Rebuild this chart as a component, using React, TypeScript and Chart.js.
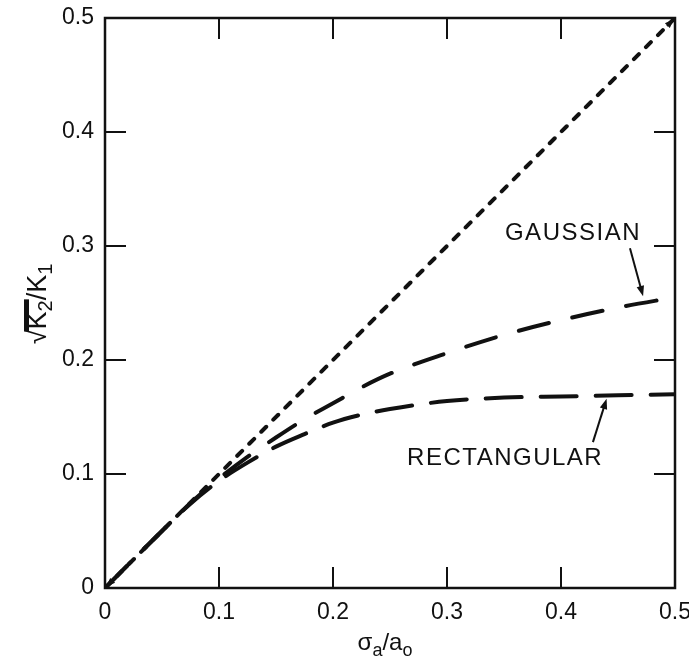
import React, { useEffect, useRef } from "react";
import { Chart, registerables } from "chart.js";

Chart.register(...registerables);

// ---- data ----
const diagonalX = [0, 0.5];
const diagonalY = [0, 0.5];
const gaussianX = [0, 0.05, 0.075, 0.1, 0.125, 0.15, 0.175, 0.2, 0.225, 0.25, 0.3, 0.35, 0.4, 0.45, 0.5];
const gaussianY = [0, 0.05, 0.0745, 0.096, 0.115, 0.132, 0.148, 0.162, 0.176, 0.188, 0.206, 0.222, 0.235, 0.246, 0.255];
const rectX = [0, 0.05, 0.075, 0.1, 0.125, 0.15, 0.175, 0.2, 0.225, 0.25, 0.3, 0.35, 0.4, 0.45, 0.5];
const rectY = [0, 0.05, 0.074, 0.094, 0.11, 0.124, 0.135, 0.145, 0.152, 0.157, 0.164, 0.167, 0.168, 0.169, 0.17];
const tickValues = [0, 0.1, 0.2, 0.3, 0.4, 0.5];
const tickLabels = ["0", "0.1", "0.2", "0.3", "0.4", "0.5"];

// annotation anchors (data coordinates)
const gaussLabel = { text: "GAUSSIAN", x: 0.4105, y: 0.311 };
const gaussArrow = { x0: 0.4605, y0: 0.298, x1: 0.472, y1: 0.256 };
const rectLabel = { text: "RECTANGULAR", x: 0.351, y: 0.114 };
const rectArrow = { x0: 0.428, y0: 0.128, x1: 0.44, y1: 0.166 };

const FONT = '"Liberation Sans", Arial, Helvetica, sans-serif';
const INK = "#111111";
const TICK_LEN = 21;

const labelFor = (v: number) => {
  const i = tickValues.findIndex((t) => Math.abs(t - v) < 1e-9);
  return i >= 0 ? tickLabels[i] : "";
};

function arrow(ctx: CanvasRenderingContext2D, x0: number, y0: number, x1: number, y1: number, head: number) {
  const ang = Math.atan2(y1 - y0, x1 - x0);
  ctx.beginPath();
  ctx.moveTo(x0, y0);
  ctx.lineTo(x1 - Math.cos(ang) * head * 0.8, y1 - Math.sin(ang) * head * 0.8);
  ctx.lineWidth = 2;
  ctx.stroke();
  ctx.beginPath();
  ctx.moveTo(x1, y1);
  ctx.lineTo(x1 - head * Math.cos(ang - 0.35), y1 - head * Math.sin(ang - 0.35));
  ctx.lineTo(x1 - head * Math.cos(ang + 0.35), y1 - head * Math.sin(ang + 0.35));
  ctx.closePath();
  ctx.fill();
}

type Part = { t: string; sub?: boolean };

function drawRich(ctx: CanvasRenderingContext2D, parts: Part[], cx: number, baseY: number, size: number, subSize: number, subDrop: number) {
  const widths = parts.map((p) => {
    ctx.font = `${p.sub ? subSize : size}px ${FONT}`;
    return ctx.measureText(p.t).width;
  });
  const total = widths.reduce((a, b) => a + b, 0);
  let x = cx - total / 2;
  const pos: number[] = [];
  parts.forEach((p, i) => {
    ctx.font = `${p.sub ? subSize : size}px ${FONT}`;
    ctx.textAlign = "left";
    ctx.textBaseline = "alphabetic";
    ctx.fillText(p.t, x, baseY + (p.sub ? subDrop : 0));
    pos.push(x);
    x += widths[i];
  });
  return { pos, widths };
}

const framePlugin = {
  id: "framePlugin",
  afterDatasetsDraw(chart: any) {
    const ctx: CanvasRenderingContext2D = chart.ctx;
    const { left, right, top, bottom } = chart.chartArea;
    const xs = chart.scales.x;
    const ys = chart.scales.y;
    ctx.save();
    ctx.strokeStyle = INK;
    ctx.fillStyle = INK;
    ctx.lineWidth = 2.5;
    ctx.strokeRect(left, top, right - left, bottom - top);
    ctx.lineWidth = 2;
    ctx.beginPath();
    tickValues.forEach((v) => {
      if (v <= 0 || v >= 0.5) return;
      const px = xs.getPixelForValue(v);
      ctx.moveTo(px, bottom);
      ctx.lineTo(px, bottom - TICK_LEN);
      ctx.moveTo(px, top);
      ctx.lineTo(px, top + TICK_LEN);
      const py = ys.getPixelForValue(v);
      ctx.moveTo(left, py);
      ctx.lineTo(left + TICK_LEN, py);
      ctx.moveTo(right, py);
      ctx.lineTo(right - TICK_LEN, py);
    });
    ctx.stroke();

    // arrowheads at the ends of the diagonal
    const dx0 = xs.getPixelForValue(diagonalX[0]);
    const dy0 = ys.getPixelForValue(diagonalY[0]);
    const dx1 = xs.getPixelForValue(diagonalX[1]);
    const dy1 = ys.getPixelForValue(diagonalY[1]);
    arrow(ctx, dx0 + 8, dy0 - 8, dx0 + 1, dy0 - 1, 10);
    arrow(ctx, dx1 - 8, dy1 + 8, dx1 - 1, dy1 + 1, 10);

    // annotation arrows
    arrow(ctx, xs.getPixelForValue(gaussArrow.x0), ys.getPixelForValue(gaussArrow.y0), xs.getPixelForValue(gaussArrow.x1), ys.getPixelForValue(gaussArrow.y1), 11);
    arrow(ctx, xs.getPixelForValue(rectArrow.x0), ys.getPixelForValue(rectArrow.y0), xs.getPixelForValue(rectArrow.x1), ys.getPixelForValue(rectArrow.y1), 11);

    // annotation labels
    ctx.font = `24px ${FONT}`;
    (ctx as any).letterSpacing = "1.5px";
    ctx.textAlign = "center";
    ctx.textBaseline = "middle";
    ctx.fillText(gaussLabel.text, xs.getPixelForValue(gaussLabel.x), ys.getPixelForValue(gaussLabel.y));
    ctx.fillText(rectLabel.text, xs.getPixelForValue(rectLabel.x), ys.getPixelForValue(rectLabel.y));
    (ctx as any).letterSpacing = "0px";

    // x axis title: sigma_a / a_o
    drawRich(
      ctx,
      [{ t: "σ" }, { t: "a", sub: true }, { t: "/a" }, { t: "o", sub: true }],
      (left + right) / 2 - 5,
      650,
      24,
      18,
      6
    );

    // y axis title: sqrt(K2)/K1, rotated
    ctx.translate(46, 304);
    ctx.rotate(-Math.PI / 2);
    const r = drawRich(
      ctx,
      [{ t: "√" }, { t: "K" }, { t: "2", sub: true }, { t: "/K" }, { t: "1", sub: true }],
      0,
      0,
      27,
      20,
      6
    );
    ctx.font = `27px ${FONT}`;
    const m = ctx.measureText("√");
    const barY = -(m.actualBoundingBoxAscent || 21) + 2.5;
    ctx.lineWidth = 5;
    ctx.beginPath();
    ctx.moveTo(r.pos[0] + r.widths[0] - 2, barY);
    ctx.lineTo(r.pos[2] + r.widths[2] + 1, barY);
    ctx.stroke();
    ctx.restore();
  },
};

export default function App() {
  const ref = useRef<HTMLCanvasElement>(null);
  useEffect(() => {
    const canvas = ref.current;
    if (!canvas) return;
    const chart = new Chart(canvas, {
      type: "line",
      data: {
        datasets: [
          {
            label: "y = x",
            data: diagonalX.map((x, i) => ({ x, y: diagonalY[i] })),
            borderColor: INK,
            borderWidth: 4,
            borderDash: [7, 10],
            borderCapStyle: "round",
            pointRadius: 0,
            fill: false,
          },
          {
            label: "GAUSSIAN",
            data: gaussianX.map((x, i) => ({ x, y: gaussianY[i] })),
            borderColor: INK,
            borderWidth: 4,
            borderDash: [31, 24],
            borderCapStyle: "round",
            pointRadius: 0,
            fill: false,
            cubicInterpolationMode: "monotone",
          },
          {
            label: "RECTANGULAR",
            data: rectX.map((x, i) => ({ x, y: rectY[i] })),
            borderColor: INK,
            borderWidth: 4,
            borderDash: [36, 19],
            borderCapStyle: "round",
            pointRadius: 0,
            fill: false,
            cubicInterpolationMode: "monotone",
          },
        ],
      },
      options: {
        responsive: false,
        animation: false,
        devicePixelRatio: 1,
        layout: { padding: { left: 0, right: 14, top: 18, bottom: 0 } },
        plugins: { legend: { display: false }, tooltip: { enabled: false } },
        scales: {
          x: {
            type: "linear",
            min: 0,
            max: 0.5,
            afterBuildTicks: (s: any) => {
              s.ticks = tickValues.map((v) => ({ value: v }));
            },
            afterFit: (s: any) => {
              s.height = 73;
              s.paddingLeft = 0;
              s.paddingRight = 0;
            },
            grid: { display: false, drawTicks: false },
            border: { display: false },
            ticks: {
              padding: 11,
              autoSkip: false,
              maxRotation: 0,
              color: INK,
              font: { family: FONT, size: 23 },
              callback: (v: any) => labelFor(Number(v)),
            },
          },
          y: {
            type: "linear",
            min: 0,
            max: 0.5,
            afterBuildTicks: (s: any) => {
              s.ticks = tickValues.map((v) => ({ value: v }));
            },
            afterFit: (s: any) => {
              s.width = 105;
              s.paddingTop = 0;
              s.paddingBottom = 0;
            },
            grid: { display: false, drawTicks: false },
            border: { display: false },
            ticks: {
              padding: 11,
              autoSkip: false,
              color: INK,
              font: { family: FONT, size: 23 },
              callback: (v: any) => labelFor(Number(v)),
            },
          },
        },
      },
      plugins: [framePlugin],
    } as any);
    return () => chart.destroy();
  }, []);
  return (
    <canvas
      ref={ref}
      width={689}
      height={661}
      style={{ position: "absolute", left: 0, top: 0, width: 689, height: 661, background: "#fff" }}
    />
  );
}
